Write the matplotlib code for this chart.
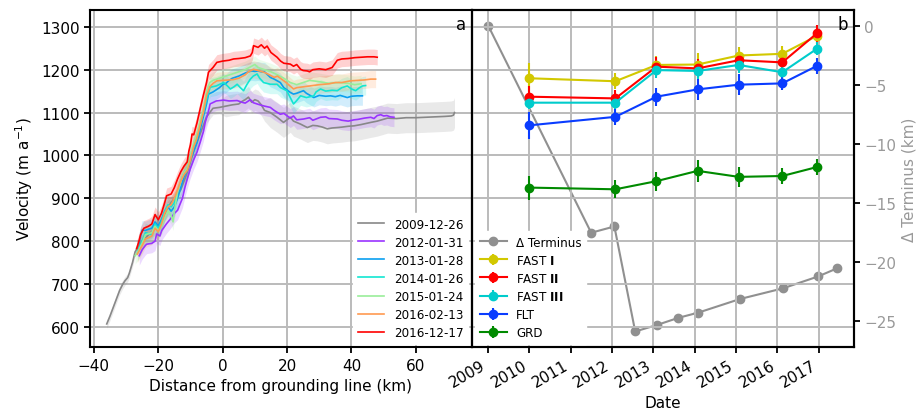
import numpy as np
import matplotlib
matplotlib.use("Agg")
import matplotlib.pyplot as plt
import matplotlib.dates as mdates

# ---------------- velocity profiles along flow (panel a) ----------------
profile_labels = ["2009-12-26", "2012-01-31", "2013-01-28", "2014-01-26",
                  "2015-01-24", "2016-02-13", "2016-12-17"]
profile_colors = ["#888888", "#9933ff", "#0a9ff0", "#12e6d2",
                  "#99ee99", "#ff9a50", "#ff0000"]

d_2009 = [-36, -35, -34, -33, -32, -31, -30.3, -29.5, -29, -28, -27.2, -26, -25, -23, -21,
          -19, -17, -15, -13, -11, -9, -7, -5, -3, -1, 1, 3, 5, 6, 7, 8, 9, 10, 11, 12,
          13, 14.8, 16.9, 18.9, 21, 22, 24.2, 26.3, 28, 29.4, 31, 32.5, 34, 35.6, 37,
          39, 40.8, 43, 46, 48, 51.2, 54, 57, 60, 63, 66, 69, 71, 71.7, 72]
v_2009 = [607, 625, 645, 665, 685, 700, 708, 715, 725, 750, 775, 790, 800, 815, 830,
          845, 880, 900, 920, 960, 1010, 1050, 1090, 1110, 1112, 1115, 1118, 1120, 1126, 1130,
          1136, 1124, 1130, 1127, 1118, 1105, 1100, 1089, 1077, 1089, 1080, 1073, 1065, 1070,
          1069, 1066, 1062, 1064, 1065, 1066, 1068, 1069, 1072, 1077, 1080, 1087, 1086, 1088,
          1088, 1089, 1090, 1091, 1092, 1094, 1100]
s_2009 = [10] * 11 + [15] * 14 + [25] * 11 + [35] * 29

d_2012 = [-25.9, -25, -24, -23.6, -22, -21, -20.5, -19.5, -18.9, -17.5, -16.3, -15, -14,
          -13.2, -12.5, -11.7, -11, -10.1, -9, -8, -7, -6, -5.4, -4.5, -3.9, -2, 0.3, 2,
          4.5, 6, 7, 8.6, 9.5, 10.7, 12, 13, 14.8, 16, 17.9, 19, 21, 22, 23, 25.2, 27, 28,
          30.4, 32, 33, 35.6, 37, 39, 40.8, 42, 44, 46, 47, 48, 49.1, 50, 51, 52, 53.2]
v_2012 = [766, 780, 790, 793, 795, 800, 817, 812, 825, 840, 851, 865, 872,
          887, 900, 926, 945, 968, 990, 1007, 1030, 1055, 1078, 1100, 1120, 1127, 1129, 1127,
          1128, 1124, 1122, 1130, 1123, 1120, 1117, 1115, 1112, 1105, 1096, 1098, 1087, 1092,
          1083, 1085, 1088, 1082, 1089, 1090, 1086, 1085, 1082, 1080, 1083, 1084, 1087, 1089,
          1086, 1093, 1095, 1092, 1093, 1090, 1089]

d_2013 = [-26, -25, -24, -23, -22, -21, -20, -19, -18, -17, -16, -15, -14, -13, -12, -11,
          -10, -9, -8, -7, -6, -5, -4.4, -3, -1, 0, 1, 2, 3, 5, 7, 8, 9, 10, 11, 12, 13,
          14.8, 16, 17.9, 19, 21, 22, 23, 25.1, 26, 28.3, 30, 32, 33.5, 35, 36.5, 38.7, 40,
          41.8, 43.4]
v_2013 = [795, 826, 825, 828, 830, 845, 835, 850, 870, 880, 870, 880, 900, 925, 950, 965,
          990, 1010, 1030, 1060, 1090, 1120, 1143, 1148, 1158, 1165, 1168, 1175, 1180, 1185,
          1192, 1195, 1197, 1196, 1197, 1195, 1195, 1182, 1178, 1170, 1158, 1147, 1143, 1145,
          1151, 1145, 1135, 1140, 1138, 1139, 1137, 1140, 1135, 1138, 1139, 1139]

d_2014 = [-26.5, -25, -24, -22, -21, -20, -19, -18, -17, -16, -15, -14, -13, -12, -11, -10,
          -9, -8, -7, -6, -5, -3.9, -2, 0.3, 1.5, 2.4, 3.5, 4.5, 5.5, 6.5, 7.5, 8.6, 9.5,
          10.7, 11.5, 12.7, 14.8, 16.9, 18, 19.9, 21, 22, 23, 24.2, 26, 28.3, 29, 30.4, 32,
          34, 35.6, 37, 38.7, 40, 41.3, 42.5, 43.4, 44.4]
v_2014 = [775, 800, 820, 815, 840, 830, 845, 870, 885, 880, 890, 915, 940, 960, 970, 995,
          1020, 1040, 1070, 1100, 1130, 1159, 1162, 1170, 1162, 1155, 1160, 1166, 1158, 1151,
          1165, 1178, 1185, 1190, 1180, 1170, 1166, 1166, 1158, 1151, 1135, 1120, 1128, 1139,
          1135, 1139, 1148, 1155, 1150, 1152, 1151, 1158, 1162, 1155, 1151, 1158, 1162, 1163]

d_2015 = [-27.2, -26, -25, -24, -22, -21, -20, -19, -18, -17, -16, -15.4, -15, -14, -13,
          -12, -11, -10, -9, -8, -7, -6, -5, -4, -3, -1, 1, 3, 5, 7, 9, 10, 11, 13, 15, 17,
          19, 21, 23, 25, 27, 30, 33, 36, 39, 41, 43]
v_2015 = [766, 780, 795, 815, 820, 835, 825, 835, 855, 870, 860, 845, 870, 915, 940,
          960, 970, 1000, 1030, 1050, 1080, 1110, 1150, 1170, 1175, 1180, 1185, 1190, 1195,
          1200, 1208, 1212, 1205, 1200, 1195, 1188, 1180, 1170, 1165, 1170, 1175, 1172, 1168,
          1170, 1168, 1165, 1167]

d_2016a = [-26.5, -25, -24, -22, -21, -20, -19, -18, -17, -16, -15, -14, -13, -12, -11,
           -10, -9, -8, -7, -6, -5, -4, -3, -1.8, 0, 2, 3.4, 5, 7, 8, 9.6, 11, 12.8, 14, 16,
           17, 19, 20, 22, 23, 25, 27, 30, 33, 35, 37, 39.7, 42, 44, 46, 47.5]
v_2016a = [770, 790, 805, 812, 830, 822, 840, 865, 880, 885, 900, 920, 940, 955, 965,
           990, 1020, 1040, 1070, 1100, 1140, 1160, 1168, 1174, 1175, 1176, 1177, 1180, 1188,
           1195, 1201, 1198, 1194, 1190, 1182, 1185, 1174, 1168, 1155, 1158, 1160, 1162, 1165,
           1167, 1170, 1170, 1174, 1175, 1176, 1178, 1178]

d_2016b = [-26.7, -26, -25.5, -24.5, -23, -22, -21, -20, -19, -18, -17.4, -16, -15, -14,
           -13, -12, -11, -10.5, -10, -9.5, -9, -8, -7, -6, -5, -4.4, -3, -1.8, 0, 2, 3.4,
           5, 7, 8.6, 9.2, 9.6, 11, 12, 13, 13.8, 15, 16.9, 18, 19, 21, 22, 23, 24.2, 25,
           26.3, 27, 28, 30, 32, 34, 35.6, 37, 39, 41, 43, 45, 47, 48]
v_2016b = [783, 800, 815, 830, 835, 840, 862, 850, 865, 890, 906, 910, 925, 945,
           962, 975, 985, 1010, 1025, 1050, 1048, 1075, 1108, 1140, 1170, 1194, 1205, 1217,
           1220, 1222, 1225, 1226, 1228, 1232, 1240, 1256, 1252, 1258, 1250, 1255, 1240, 1229,
           1220, 1215, 1213, 1208, 1212, 1201, 1198, 1197, 1195, 1200, 1202, 1200, 1205, 1222,
           1225, 1226, 1228, 1229, 1230, 1230, 1229]

profile_dist = [d_2009, d_2012, d_2013, d_2014, d_2015, d_2016a, d_2016b]
profile_vel = [v_2009, v_2012, v_2013, v_2014, v_2015, v_2016a, v_2016b]
profile_sd = [s_2009, 22, 22, 22, 20, 20, 18]

# ---------------- time series (panel b) ----------------
vel_dates = ["2009-12-26", "2012-01-31", "2013-01-28", "2014-01-26",
             "2015-01-24", "2016-02-13", "2016-12-17"]
region_labels = [r"FAST $\mathbf{I}$", r"FAST $\mathbf{II}$", r"FAST $\mathbf{III}$",
                 "FLT", "GRD"]
region_colors = ["#d2c800", "#ff0000", "#00cccc", "#0a3cff", "#008a00"]
fast1 = [1180, 1173, 1211, 1212, 1233, 1237, 1279]
fast2 = [1137, 1133, 1207, 1203, 1222, 1217, 1285]
fast3 = [1123, 1123, 1199, 1197, 1211, 1194, 1249]
flt = [1070, 1090, 1137, 1154, 1165, 1168, 1209]
grd = [925, 921, 940, 964, 950, 952, 973]
fast1_err = [35, 19, 20, 26, 21, 18, 20]
fast2_err = [25, 20, 22, 22, 20, 20, 20]
fast3_err = [15, 15, 19, 18, 18, 15, 15]
flt_err = [32, 19, 21, 25, 24, 16, 18]
grd_err = [28, 21, 22, 25, 23, 19, 18]
region_vel = [fast1, fast2, fast3, flt, grd]
region_err = [fast1_err, fast2_err, fast3_err, flt_err, grd_err]

term_dates = ["2009-01-03", "2011-07-01", "2012-01-22", "2012-07-24", "2013-02-01",
              "2013-08-08", "2014-02-03", "2015-02-06", "2016-02-20", "2016-12-25",
              "2017-06-14"]
term_km = [0.0, -17.5, -16.97, -25.85, -25.3, -24.7, -24.25, -23.1, -22.2, -21.2, -20.5]

# ---------------- figure ----------------
plt.rcParams["font.family"] = "DejaVu Sans"
plt.rcParams["font.size"] = 11
plt.rcParams["mathtext.fontset"] = "dejavusans"

fig, (ax_a, ax_b) = plt.subplots(1, 2, sharey=True, figsize=(9.23, 4.10), dpi=100)
fig.subplots_adjust(left=0.0975, right=0.925, bottom=0.151, top=0.973, wspace=0)

grid_kw = dict(color="#bbbbbb", linewidth=1.4)
for ax in (ax_a, ax_b):
    ax.grid(True, **grid_kw)
    ax.set_axisbelow(True)
    for sp in ax.spines.values():
        sp.set_linewidth(1.5)
    ax.tick_params(width=1.3, length=4, labelsize=11)

for d, v, s, c, lab in zip(profile_dist, profile_vel, profile_sd, profile_colors, profile_labels):
    d = np.asarray(d, float)
    v = np.asarray(v, float)
    s = np.asarray(s, float)
    ax_a.fill_between(d, v - s, v + s, color=c, alpha=0.18, linewidth=0)
    ax_a.plot(d, v, color=c, lw=1.2, label=lab)

ax_a.set_xlim(-41.2, 77.4)
ax_a.set_ylim(553, 1339)
ax_a.set_xticks([-40, -20, 0, 20, 40, 60])
ax_a.set_yticks([600, 700, 800, 900, 1000, 1100, 1200, 1300])
ax_a.set_xlabel("Distance from grounding line (km)", fontsize=11)
ax_a.set_ylabel("Velocity (m a$^{-1}$)", fontsize=11)
ax_a.text(0.984, 0.944, "a", transform=ax_a.transAxes, ha="right", va="baseline", fontsize=12)
ax_a.legend(loc="lower right", fontsize=8.6, frameon=True, fancybox=False,
            framealpha=1, edgecolor="white", handlelength=2.2,
            labelspacing=0.42, borderaxespad=0.3)

# panel b: terminus on a twin axis drawn beneath the velocity series
ax_t = ax_b.twinx()
ax_b.set_zorder(ax_t.get_zorder() + 1)
ax_b.patch.set_visible(False)

tdates = np.array(term_dates, dtype="datetime64[D]")
term_line, = ax_t.plot(tdates, term_km, "-o", color="#909090", ms=6, lw=1.5,
                       label="\u0394 Terminus")
ax_t.set_ylim(-27.17, 1.33)
ax_t.set_yticks([0, -5, -10, -15, -20, -25])
ax_t.tick_params(axis="y", colors="black", labelcolor="#999999", width=1.3, length=4,
                 labelsize=11)
ax_t.set_ylabel("\u0394 Terminus (km)", color="#999999", fontsize=11)
for sp in ax_t.spines.values():
    sp.set_linewidth(1.5)

vdates = np.array(vel_dates, dtype="datetime64[D]")
handles = [term_line]
for vals, errs, c, lab in zip(region_vel, region_err, region_colors, region_labels):
    h = ax_b.errorbar(vdates, vals, yerr=errs, fmt="-o", color=c, ms=6, lw=1.5,
                      elinewidth=1.5, capsize=0, label=lab)
    handles.append(h)

ax_b.set_xlim(np.datetime64("2008-08-11"), np.datetime64("2017-11-06"))
ax_b.xaxis.set_major_locator(mdates.YearLocator())
ax_b.xaxis.set_major_formatter(mdates.DateFormatter("%Y"))
ax_b.tick_params(axis="y", left=False, labelleft=False)
for lbl in ax_b.get_xticklabels():
    lbl.set_rotation(30)
    lbl.set_ha("right")
ax_b.set_xlabel("Date", fontsize=11)
ax_b.text(0.984, 0.944, "b", transform=ax_b.transAxes, ha="right", va="baseline", fontsize=12)
ax_b.legend(handles=handles, labels=[h.get_label() for h in handles], loc="lower left",
            fontsize=8.6, frameon=True, fancybox=False, framealpha=1, edgecolor="white",
            handlelength=2.2, labelspacing=0.42, borderaxespad=0.3)

fig.savefig("out.png", dpi=100)
